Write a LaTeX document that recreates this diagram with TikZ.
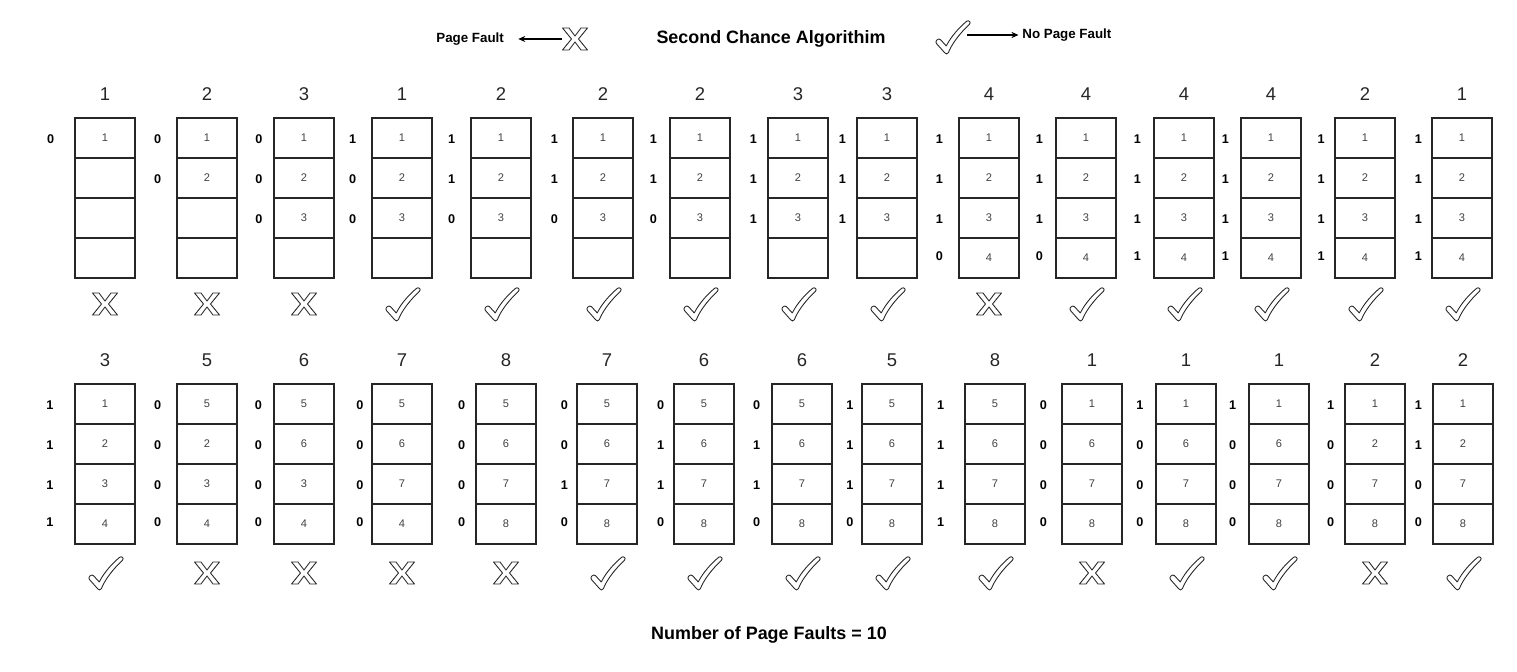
\documentclass[tikz,border=0pt]{standalone}
\usepackage{fontspec}
\setmainfont{Liberation Sans}
\usetikzlibrary{arrows.meta}
\begin{document}
\begin{tikzpicture}[x=0.02cm,y=-0.02cm,
  cell/.style={draw=black!85,line width=0.8pt,minimum width=1.2cm,minimum height=0.8cm,inner sep=0pt,outer sep=0pt,font=\fontsize{6.3}{7}\selectfont,text=black!75},
  bit/.style={font=\fontsize{7.2}{8}\selectfont\bfseries,inner sep=0pt},
  hdr/.style={font=\fontsize{10.5}{12}\selectfont,text=black!85,inner sep=0pt},
  legtxt/.style={font=\fontsize{7.6}{9}\selectfont\bfseries,inner sep=0pt},
  symstyle/.style={draw=black!85,fill=white,line width=0.5pt,line join=round},
  legarrow/.style={-{Stealth[length=4pt,width=3.5pt]},line width=0.6pt},
  xmark/.pic={\path[symstyle] (-12.5,-11) -- (-6,-11) -- (0,-3) -- (6,-11) -- (12.5,-11) -- (3.5,0) -- (12.5,11) -- (6,11) -- (0,3) -- (-6,11) -- (-12.5,11) -- (-3.5,0) -- cycle;},
  cmark/.pic={\path[symstyle,scale=1.05] (-7,15) -- (-15,6) .. controls (-16.5,4) and (-13,0.5) .. (-11,2.5) -- (-5.5,8.5) .. controls (0,-2) and (8,-10) .. (14,-15) .. controls (16,-16.5) and (18.5,-14) .. (16.5,-12) .. controls (8,-4) and (0,6) .. (-3.5,15) .. controls (-4.5,16.5) and (-6,16.5) .. (-7,15) -- cycle;}
]
\useasboundingbox (0,0) rectangle (1517,672);
% legend
\node[legtxt,anchor=west] (pf) at (436,39) {Page Fault};
\node[minimum width=0.52cm,minimum height=0.44cm,inner sep=0pt] (legX) at (575,39) {};
\pic at (575,39) {xmark};
\draw[legarrow,shorten >=8pt] (legX.west) -- (pf.east);
\node[font=\fontsize{10.2}{12}\selectfont\bfseries] (title) at (771,39) {Second Chance Algorithim};
\node[minimum width=0.6cm,minimum height=0.6cm,inner sep=0pt] (legC) at (952,37) {};
\pic at (952,37) {cmark};
\node[legtxt,anchor=west] (npf) at (1022,35) {No Page Fault};
\draw[legarrow,shorten >=2pt] (legC.east |- npf.west) -- (npf.west);
% row 1
\foreach \i/\L/\bx/\h/\cells/\bits/\s in {
 1/75/50.7/1/{1,{},{},{}}/{0}/0,
 2/177/157.7/2/{1,2,{},{}}/{0,0}/0,
 3/274/259/3/{1,2,3,{}}/{0,0,0}/0,
 4/372/352.7/1/{1,2,3,{}}/{1,0,0}/1,
 5/471/451.7/2/{1,2,3,{}}/{1,1,0}/1,
 6/573/554.3/2/{1,2,3,{}}/{1,1,0}/1,
 7/670/653.3/2/{1,2,3,{}}/{1,1,0}/1,
 8/768/753.3/3/{1,2,3,{}}/{1,1,1}/1,
 9/857/842.3/3/{1,2,3,{}}/{1,1,1}/1,
 10/959/939.3/4/{1,2,3,4}/{1,1,1,0}/0,
 11/1056/1039.3/4/{1,2,3,4}/{1,1,1,0}/1,
 12/1154/1137.3/4/{1,2,3,4}/{1,1,1,1}/1,
 13/1241/1225.3/4/{1,2,3,4}/{1,1,1,1}/1,
 14/1335/1321/2/{1,2,3,4}/{1,1,1,1}/1,
 15/1432/1418.3/1/{1,2,3,4}/{1,1,1,1}/1}{
  \node[hdr] (h1-\i) at (\L+30,94) {\h};
  \foreach \c [count=\k] in \cells {\node[cell] (c1-\i-\k) at (\L+30,{138+40*(\k-1)}) {\c};}
  \foreach \b [count=\k] in \bits {\node[bit] (b1-\i-\k) at (\bx,{139+40*(\k-1)-3*(\k==4)}) {\b};}
  \ifnum\s=0 \pic at (\L+30,304) {xmark}; \else \pic at (\L+30,304) {cmark}; \fi
}
% row 2
\foreach \i/\L/\bx/\h/\cells/\bits/\s in {
 1/75/50/3/{1,2,3,4}/{1,1,1,1}/1,
 2/177/157.7/5/{5,2,3,4}/{0,0,0,0}/0,
 3/274/258.3/6/{5,6,3,4}/{0,0,0,0}/0,
 4/372/360/7/{5,6,7,4}/{0,0,0,0}/0,
 5/476/461.7/8/{5,6,7,8}/{0,0,0,0}/0,
 6/577/564.3/7/{5,6,7,8}/{0,0,1,0}/1,
 7/674/660.7/6/{5,6,7,8}/{0,1,1,0}/1,
 8/772/756.7/6/{5,6,7,8}/{0,1,1,0}/1,
 9/862/850/5/{5,6,7,8}/{1,1,1,0}/1,
 10/965/940.7/8/{5,6,7,8}/{1,1,1,1}/1,
 11/1062/1043.3/1/{1,6,7,8}/{0,0,0,0}/0,
 12/1156/1140/1/{1,6,7,8}/{1,0,0,0}/1,
 13/1249/1232.7/1/{1,6,7,8}/{1,0,0,0}/1,
 14/1345/1330.7/2/{1,2,7,8}/{1,0,0,0}/0,
 15/1433/1418.3/2/{1,2,7,8}/{1,1,0,0}/1}{
  \node[hdr] (h2-\i) at (\L+30,360) {\h};
  \foreach \c [count=\k] in \cells {\node[cell] (c2-\i-\k) at (\L+30,{404+40*(\k-1)}) {\c};}
  \foreach \b [count=\k] in \bits {\node[bit] (b2-\i-\k) at (\bx,{405+40*(\k-1)-3*(\k==4)}) {\b};}
  \ifnum\s=0 \pic at (\L+30,573) {xmark}; \else \pic at (\L+30,573) {cmark}; \fi
}
\node[font=\fontsize{10.2}{12}\selectfont\bfseries] (total) at (769,635) {Number of Page Faults = 10};
\end{tikzpicture}
\end{document}
